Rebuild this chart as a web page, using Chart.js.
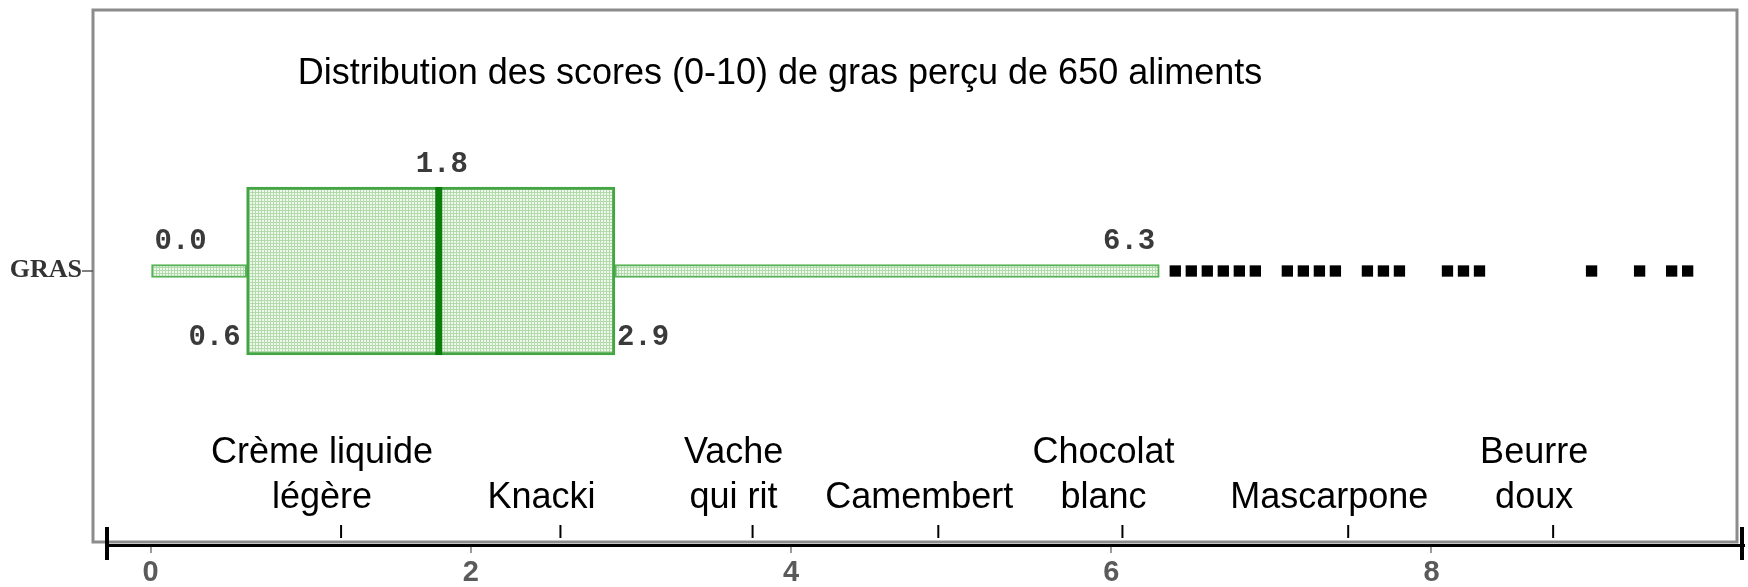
<!DOCTYPE html>
<html>
<head>
<meta charset="utf-8">
<script src="https://cdn.jsdelivr.net/npm/chart.js@4.4.0/dist/chart.umd.min.js"></script>
<style>
  html, body { margin: 0; padding: 0; background: #fff; }
  .gras_container { position: relative; width: 1748px; height: 587px; }
</style>
</head>
<body>
<div class="gras_container">
  <canvas id="gras"></canvas>
</div>

<script>
// five-number summary of the perceived fat score (0-10)
var statNames = ['min', 'q1', 'median', 'q3', 'max'];
var statValues = [0.0, 0.6, 1.8, 2.9, 6.3];

// outlying foods beyond the upper whisker
var outliers = [6.4, 6.5, 6.6, 6.7, 6.8, 6.9, 7.1, 7.2, 7.3, 7.4,
                7.6, 7.7, 7.8, 8.1, 8.2, 8.3, 9.0, 9.3, 9.5, 9.6];

// reference foods marked along the bottom
var foodNames = [['Crème liquide', 'légère'], ['Knacki'], ['Vache', 'qui rit'], ['Camembert'],
                 ['Chocolat', 'blanc'], ['Mascarpone'], ['Beurre', 'doux']];
var foodScores = [1.19, 2.56, 3.76, 4.92, 6.07, 7.48, 8.76];

var axisTicks = [0, 2, 4, 6, 8];
var rowLabel = 'GRAS';
var chartTitle = 'Distribution des scores (0-10) de gras perçu de 650 aliments';

var ctx = document.getElementById('gras');

// fine green mesh like the original box fill
function meshFill() {
  var c = document.createElement('canvas');
  c.width = 3; c.height = 3;
  var g = c.getContext('2d');
  g.fillStyle = '#eff8ec';
  g.fillRect(0, 0, 3, 3);
  g.fillStyle = '#b2daab';
  g.fillRect(0, 0, 3, 1);
  g.fillRect(0, 0, 1, 3);
  return ctx.getContext('2d').createPattern(c, 'repeat');
}
var mesh = meshFill();

var decor = {
  id: 'decor',
  beforeDraw: function(chart) {
    var c = chart.ctx, a = chart.chartArea;
    c.save();
    c.fillStyle = '#fff';
    c.fillRect(0, 0, chart.width, chart.height);
    // grey frame round the plot
    c.strokeStyle = '#8c8c8c';
    c.lineWidth = 3;
    c.strokeRect(a.left - 14, a.top, (a.right - 7) - (a.left - 14), (a.bottom - 3) - a.top);
    c.restore();
  },
  afterDraw: function(chart) {
    var c = chart.ctx, a = chart.chartArea;
    var sx = chart.scales.x, sy = chart.scales.y;
    var row = sy.getPixelForValue(0);
    c.save();

    // title
    c.fillStyle = '#000';
    c.font = '36px "Liberation Sans", Arial, sans-serif';
    c.textAlign = 'center';
    c.textBaseline = 'alphabetic';
    c.fillText(chartTitle, 780, 84);

    // row label with its little tick
    c.font = 'bold 26px "Liberation Serif", "Times New Roman", serif';
    c.fillStyle = '#333';
    c.textAlign = 'right';
    c.fillText(rowLabel, a.left - 25, row + 6);
    c.strokeStyle = '#555';
    c.lineWidth = 1.5;
    c.beginPath();
    c.moveTo(a.left - 25, row);
    c.lineTo(a.left - 14, row);
    c.stroke();

    // summary values next to the box
    var v = statValues;
    var half = 84;
    c.font = 'bold 29px "Liberation Mono", "Courier New", monospace';
    c.fillStyle = '#3a3a3a';
    function stat(i, dx, y, align) {
      c.textAlign = align;
      c.fillText(v[i].toFixed(1), sx.getPixelForValue(v[i]) + dx, y);
    }
    stat(0, 4, row - 22, 'left');
    stat(1, -6, row + half - 10, 'right');
    stat(2, 3, row - half - 15, 'center');
    stat(3, 2, row + half - 10, 'left');
    stat(4, -4, row - 22, 'right');

    // axis end bars
    c.strokeStyle = '#000';
    c.lineWidth = 4;
    c.beginPath();
    c.moveTo(a.left, a.bottom - 18); c.lineTo(a.left, a.bottom + 15);
    c.moveTo(a.right - 2, a.bottom - 18); c.lineTo(a.right - 2, a.bottom + 15);
    c.stroke();

    // food markers
    c.font = '36px "Liberation Sans", Arial, sans-serif';
    c.fillStyle = '#000';
    c.textAlign = 'center';
    c.lineWidth = 2;
    for (var i = 0; i < foodScores.length; i++) {
      var x = sx.getPixelForValue(foodScores[i]);
      c.beginPath();
      c.moveTo(x, a.bottom - 20);
      c.lineTo(x, a.bottom - 7);
      c.stroke();
      var lines = foodNames[i];
      for (var j = 0; j < lines.length; j++) {
        var y = a.bottom - 37 - (lines.length - 1 - j) * 45;
        c.fillText(lines[j], x - 19, y);
      }
    }
    c.restore();
  }
};

var box = statValues;
var gras = new Chart(ctx, {
  type: 'bar',
  data: {
    datasets: [
      {
        type: 'scatter',
        label: 'médiane',
        data: [{x: box[2], y: 0}],
        pointStyle: 'line',
        pointRotation: 90,
        pointRadius: 84,
        pointBorderWidth: 7,
        pointBorderColor: '#0b7d0b',
        order: 0
      },
      {
        type: 'scatter',
        label: 'valeurs extrêmes',
        data: outliers.map(function(s) { return {x: s, y: 0}; }),
        pointStyle: 'rect',
        pointRadius: 8,
        pointBackgroundColor: '#000',
        pointBorderWidth: 0,
        order: 0
      },
      {
        label: 'boîte',
        data: [{x: [box[1], box[3]], y: 0}],
        backgroundColor: mesh,
        borderColor: '#45a545',
        borderWidth: 3,
        borderSkipped: false,
        barThickness: 168,
        grouped: false,
        order: 1
      },
      {
        label: 'moustaches',
        data: [{x: [box[0], box[1]], y: 0}, {x: [box[3], box[4]], y: 0}],
        backgroundColor: mesh,
        borderColor: '#56b356',
        borderWidth: 2,
        borderSkipped: false,
        barThickness: 13,
        grouped: false,
        order: 2
      }
    ]
  },
  options: {
    indexAxis: 'y',
    responsive: true,
    maintainAspectRatio: false,
    animation: false,
    layout: { autoPadding: false, padding: { left: 107, right: 4, top: 10, bottom: -5 } },
    plugins: {
      legend: { display: false },
      tooltip: { enabled: false },
      title: { display: false }
    },
    scales: {
      x: {
        type: 'linear',
        position: 'bottom',
        min: -0.272,
        max: 9.952,
        border: { display: true, color: '#000', width: 3 },
        grid: { display: true, drawOnChartArea: false, drawTicks: true, tickLength: 8, color: '#9a9a9a', lineWidth: 2 },
        ticks: {
          color: '#5a5a5a',
          padding: 5,
          maxRotation: 0,
          font: { family: '"Liberation Sans", Arial, sans-serif', size: 29, weight: 'bold', lineHeight: 1 }
        },
        afterBuildTicks: function(axis) {
          axis.ticks = axisTicks.map(function(t) { return {value: t}; });
        }
      },
      y: {
        type: 'linear',
        display: false,
        min: -1.06,
        max: 1
      }
    }
  },
  plugins: [decor]
});
</script>
</body>
</html>
